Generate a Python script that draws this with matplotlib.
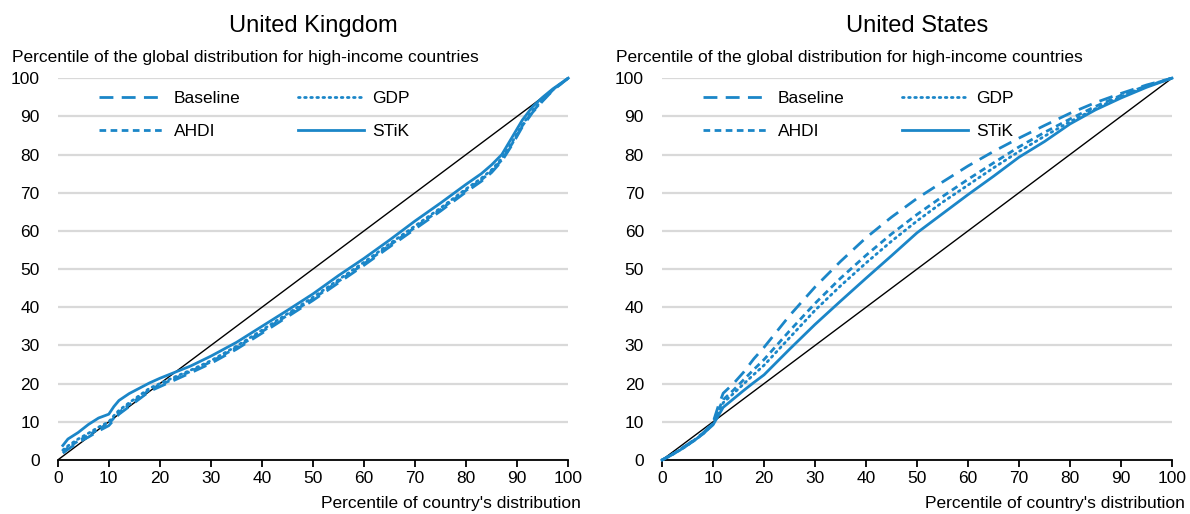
import matplotlib
matplotlib.use("Agg")
import matplotlib.pyplot as plt
from matplotlib.lines import Line2D

plt.rcParams['font.family'] = ['Liberation Sans', 'DejaVu Sans']

# ---- data -----------------------------------------------------------------
series_names = ["Baseline", "GDP", "AHDI", "STiK"]

uk_x = [1, 2, 4, 6, 8, 10, 11, 12, 14, 16, 18, 20, 23, 26, 30, 35, 40, 45, 50,
        55, 60, 65, 70, 75, 80, 83, 85, 87, 89, 91, 93, 95, 97, 100]
uk_baseline = [1.8, 2.8, 4.6, 6.0, 7.6, 9.0, 10.5, 12.0, 14.0, 16.0, 18.0, 19.2,
               21.0, 22.8, 25.3, 29.0, 33.2, 37.5, 41.8, 46.4, 51.0, 55.8, 60.5,
               65.2, 70.2, 73.0, 75.3, 78.3, 82.5, 87.2, 91.0, 94.0, 96.8, 100]
uk_gdp = [2.6, 3.7, 5.5, 7.0, 8.6, 10.0, 11.6, 13.0, 15.0, 16.9, 18.8, 20.0,
          21.8, 23.5, 26.0, 29.8, 34.0, 38.3, 42.6, 47.2, 51.8, 56.6, 61.3,
          66.0, 71.0, 73.8, 76.0, 79.0, 83.2, 87.8, 91.5, 94.4, 97.0, 100]
uk_ahdi = [2.2, 3.2, 5.0, 6.5, 8.1, 9.5, 11.0, 12.5, 14.5, 16.4, 18.4, 19.6,
           21.4, 23.2, 25.7, 29.4, 33.6, 37.9, 42.2, 46.8, 51.4, 56.2, 60.9,
           65.6, 70.6, 73.4, 75.6, 78.6, 82.8, 87.5, 91.2, 94.2, 96.9, 100]
uk_stik = [3.8, 5.5, 7.2, 9.3, 11.0, 12.0, 14.0, 15.6, 17.4, 18.8, 20.2, 21.4,
           23.0, 24.6, 27.2, 30.8, 35.0, 39.2, 43.5, 48.3, 52.8, 57.6, 62.6,
           67.3, 72.2, 75.0, 77.3, 80.0, 84.5, 89.0, 92.5, 95.0, 97.2, 100]

us_x = [0, 2, 4, 6, 8, 10, 11, 12, 14, 16, 18, 20, 25, 30, 35, 40, 45, 50, 55,
        60, 65, 70, 75, 80, 85, 90, 95, 100]
us_baseline = [0, 1.5, 3.2, 5.0, 7.0, 9.8, 14.0, 17.5, 20.0, 23.0, 26.5, 29.5,
               37.8, 45.3, 52.0, 58.2, 63.6, 68.5, 72.8, 77.0, 80.8, 84.3, 87.6,
               90.8, 93.6, 96.0, 98.2, 100]
us_gdp = [0, 1.4, 3.0, 4.8, 6.8, 9.4, 12.3, 15.0, 17.4, 19.9, 22.4, 24.8, 32.0,
          39.2, 45.6, 51.6, 57.3, 62.6, 67.5, 72.0, 76.5, 80.8, 84.8, 88.6,
          92.0, 95.2, 97.9, 100]
us_ahdi = [0, 1.5, 3.1, 4.9, 6.9, 9.6, 13.0, 15.8, 18.3, 21.0, 23.7, 26.3, 33.8,
           41.0, 47.6, 53.6, 59.2, 64.3, 69.0, 73.5, 77.8, 82.0, 85.8, 89.3,
           92.6, 95.5, 98.0, 100]
us_stik = [0, 1.4, 3.0, 4.8, 6.8, 9.2, 11.5, 13.8, 16.0, 18.2, 20.3, 22.3, 29.0,
           35.5, 41.6, 47.6, 53.5, 59.5, 64.5, 69.5, 74.3, 79.3, 83.4, 88.0,
           91.7, 94.8, 97.6, 100]

panels = [
    ("United Kingdom", uk_x, {"Baseline": uk_baseline, "GDP": uk_gdp,
                              "AHDI": uk_ahdi, "STiK": uk_stik}),
    ("United States", us_x, {"Baseline": us_baseline, "GDP": us_gdp,
                             "AHDI": us_ahdi, "STiK": us_stik}),
]

ticks = list(range(0, 101, 10))
ylabel = "Percentile of the global distribution for high-income countries"
xlabel = "Percentile of country's distribution"

# ---- styling ----------------------------------------------------------------
BLUE = "#1b86c8"
GRID = "#d9d9d9"
styles = {
    "Baseline": dict(linestyle=(0, (5, 3)), dash_capstyle="butt"),
    "GDP": dict(linestyle=(0, (0.6, 1.6)), dash_capstyle="round"),
    "AHDI": dict(linestyle=(0, (2.4, 1.6)), dash_capstyle="butt"),
    "STiK": dict(linestyle="-"),
}
LW = 2.0

fig = plt.figure(figsize=(11.9, 5.14), dpi=100)
positions = [[0.0485, 0.105, 0.429, 0.743], [0.5563, 0.105, 0.4286, 0.743]]

# legend laid out row-wise: Baseline, GDP / AHDI, STiK (columns fill first)
legend_order = ["Baseline", "AHDI", "GDP", "STiK"]

for (title, xs, data), pos in zip(panels, positions):
    ax = fig.add_axes(pos)
    ax.set_xlim(0, 100)
    ax.set_ylim(0, 100)
    ax.set_xticks(ticks)
    ax.set_yticks(ticks)
    ax.yaxis.grid(True, color=GRID, linewidth=1.6)
    ax.set_axisbelow(True)
    for side in ("top", "right", "left"):
        ax.spines[side].set_visible(False)
    ax.spines["bottom"].set_linewidth(1.3)
    ax.tick_params(axis="y", length=0, pad=13, labelsize=12.5)
    ax.tick_params(axis="x", direction="out", length=5, width=1.3, pad=3,
                   labelsize=12.5)

    # 45-degree equality line
    ax.plot([0, 100], [0, 100], color="black", linewidth=1.0, zorder=2)

    for name in ["STiK", "GDP", "AHDI", "Baseline"]:
        ax.plot(xs, data[name], color=BLUE, linewidth=LW, zorder=3,
                clip_on=False, **styles[name])

    handles = [Line2D([], [], color=BLUE, linewidth=LW, **styles[n])
               for n in legend_order]
    ax.legend(handles, legend_order, ncol=2, frameon=False, loc="upper left",
              bbox_to_anchor=(0.05, 1.008), fontsize=12.5, handlelength=3.8,
              handletextpad=0.5, columnspacing=3.3, labelspacing=1.05)

    ax.set_title(title, fontsize=17, pad=33)
    ax.text(-0.09, 1.035, ylabel, transform=ax.transAxes, fontsize=12.5,
            ha="left", va="bottom")
    ax.text(1.025, -0.095, xlabel, transform=ax.transAxes, fontsize=12.5,
            ha="right", va="top")

fig.savefig("out.png", dpi=100)
